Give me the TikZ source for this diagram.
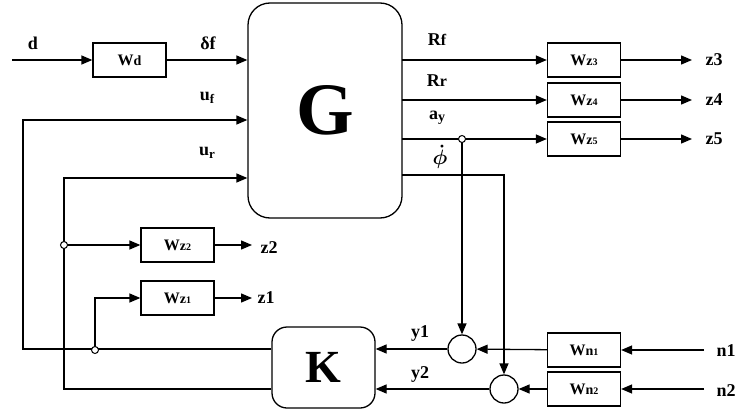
\documentclass[tikz,border=0pt]{standalone}
\usepackage{fontspec}
\setmainfont{Liberation Serif}
\usetikzlibrary{arrows.meta,calc}
\newcommand\wsub[2]{W{\fontsize{14}{14}\selectfont #1}{\fontsize{10}{10}\selectfont #2}}
\newcommand\phidotlab{\mbox{\boldmath$\dot{\phi}$}}
\begin{document}
\begin{tikzpicture}[x=1pt,y=-1pt,line width=1.3pt,
  arr/.style={-{Triangle[length=11pt,width=9pt]}},
  blk/.style={draw,minimum width=73pt,minimum height=34pt,inner sep=0pt,font=\bfseries\fontsize{16}{16}\selectfont},
  lab/.style={font=\bfseries\fontsize{18}{18}\selectfont,inner sep=0pt},
  sumc/.style={circle,draw,minimum size=28pt,inner sep=0pt},
  jn/.style={circle,draw,fill=white,minimum size=7pt,inner sep=0pt,line width=1pt}]
\useasboundingbox (0,0) rectangle (738,412);
% blocks
\node[draw,rounded corners=22pt,minimum width=154pt,minimum height=215pt,inner sep=0pt] (G) at (325,110.5) {\fontsize{74}{74}\selectfont\bfseries G};
\node[draw,rounded corners=15pt,minimum width=103pt,minimum height=81pt,inner sep=0pt] (K) at (323.5,367.5) {\fontsize{46}{46}\selectfont\bfseries K};
\node[blk] (wd) at (129.5,60) {W{\fontsize{14}{14}\selectfont d}};
\node[blk] (wz3) at (584,60) {\wsub{z}{3}};
\node[blk] (wz4) at (584,100) {\wsub{z}{4}};
\node[blk] (wz5) at (584,139) {\wsub{z}{5}};
\node[blk] (wz2) at (177.5,245) {\wsub{z}{2}};
\node[blk] (wz1) at (177.5,298) {\wsub{z}{1}};
\node[blk] (wn1) at (584,350) {\wsub{n}{1}};
\node[blk] (wn2) at (584,389) {\wsub{n}{2}};
\node[sumc] (s1) at (462,349) {};
\node[sumc] (s2) at (504,389) {};
% coordinates
\coordinate (din) at (12,60);
\coordinate (ufc) at (23,120);
\coordinate (urc) at (64,178);
\coordinate (j2) at (64,245);
\coordinate (j1) at (95,350);
\coordinate (gRf) at (402,60);
\coordinate (gRr) at (402,100);
\coordinate (gay) at (402,139);
\coordinate (gph) at (402,175);
\coordinate (jay) at (462,139);
\coordinate (z3e) at (692,60);
\coordinate (z4e) at (692,100);
\coordinate (z5e) at (692,139);
\coordinate (z2e) at (252,245);
\coordinate (z1e) at (252,298);
\coordinate (n1s) at (704,350);
\coordinate (n2s) at (704,389);
% connectors
\draw[arr] (din) -- (wd);
\draw[arr] (wd) -- (wd.east -| G.west);
\draw[arr] (K.west |- s1) -- (ufc |- s1) -- (ufc) -- (ufc -| G.west);
\draw[arr] (K.west |- s2) -- (urc |- s2) -- (urc) -- (urc -| G.west);
\draw[arr] (j2) -- (wz2);
\draw[arr] (j1) |- (wz1);
\draw[arr] (wz2) -- (z2e);
\draw[arr] (wz1) -- (z1e);
\draw[arr] (gRf) -- (wz3);
\draw[arr] (gRr) -- (wz4);
\draw[arr] (gay) -- (wz5);
\draw[arr] (wz3) -- (z3e);
\draw[arr] (wz4) -- (z4e);
\draw[arr] (wz5) -- (z5e);
\draw[arr] (jay) -- (s1);
\draw[arr] (gph) -| (s2);
\draw[arr] (n1s) -- (wn1);
\draw[arr] (n2s) -- (wn2);
\draw[arr] (wn1) -- (s1);
\draw[arr] (wn2) -- (s2);
\draw[arr] (s1) -- (s1 -| K.east);
\draw[arr] (s2) -- (s2 -| K.east);
% junctions
\node[jn] at (j2) {};
\node[jn] at (j1) {};
\node[jn] at (jay) {};
% labels
\node[lab] (ld) at (33,43) {d};
\node[lab] (ldf) at (208,43) {δf};
\node[lab] (luf) at (207,98) {u\raisebox{-3pt}{\fontsize{13}{13}\selectfont f}};
\node[lab] (lur) at (207,153) {u\raisebox{-3pt}{\fontsize{13}{13}\selectfont r}};
\node[lab] (lrf) at (437,40) {R{\fontsize{16}{16}\selectfont f}};
\node[lab] (lrr) at (437,81) {R{\fontsize{16}{16}\selectfont r}};
\node[lab] (lay) at (437,118) {a\raisebox{-2pt}{\fontsize{14}{14}\selectfont y}};
\node[lab,font=\fontsize{20}{20}\selectfont] (lph) at (440,157) {\phidotlab};
\node[lab,anchor=west] (lz3) at (705,60) {z3};
\node[lab,anchor=west] (lz4) at (705,100) {z4};
\node[lab,anchor=west] (lz5) at (705,139) {z5};
\node[lab,anchor=west] (lz2) at (260,248) {z2};
\node[lab,anchor=west] (lz1) at (257,298) {z1};
\node[lab] (ly1) at (420,333) {y1};
\node[lab] (ly2) at (420,374) {y2};
\node[lab] (ln1) at (726,351) {n1};
\node[lab] (ln2) at (726,391) {n2};
\end{tikzpicture}
\end{document}
